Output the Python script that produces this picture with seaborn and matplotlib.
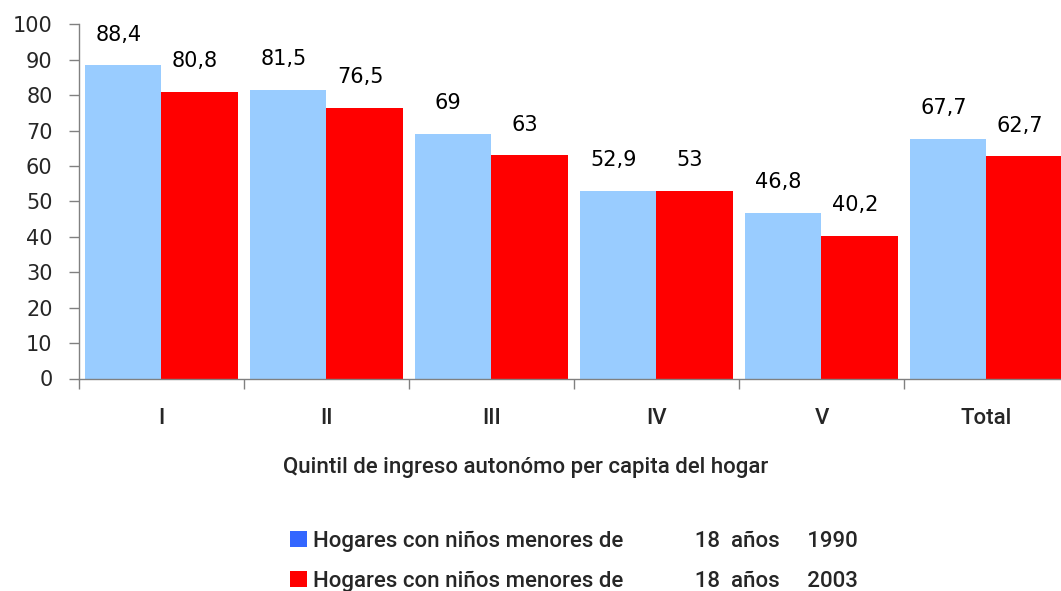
import matplotlib
matplotlib.use("Agg")
import matplotlib.pyplot as plt
import seaborn as sns
import pandas as pd
from matplotlib.patches import Patch
from matplotlib.ticker import FixedLocator

categories = ["I", "II", "III", "IV", "V", "Total"]
values_1990 = [88.4, 81.5, 69, 52.9, 46.8, 67.7]
values_2003 = [80.8, 76.5, 63, 53, 40.2, 62.7]
series_names = ["Hogares con niños menores de             18  años     1990",
                "Hogares con niños menores de             18  años     2003"]

df = pd.DataFrame({
    "cat": categories * 2,
    "val": values_1990 + values_2003,
    "serie": [series_names[0]] * 6 + [series_names[1]] * 6,
})

sns.set_style("white")
plt.rcParams['font.family'] = ['DejaVu Sans']
narrow = ['Roboto', 'DejaVu Sans']

fig = plt.figure(figsize=(10.61, 5.91), dpi=100)
ax = fig.add_axes([79 / 1061, 1 - 378.5 / 591, 990 / 1061, 354.2 / 591])

bar_colors = ["#99ccff", "#ff0000"]
sns.barplot(data=df, x="cat", y="val", hue="serie", palette=bar_colors,
            width=0.93, gap=0, saturation=1, ax=ax, legend=False, errorbar=None,
            linewidth=0, edgecolor="none")

for cont in ax.containers:
    labels = [f"{v:g}".replace(".", ",") for v in cont.datavalues]
    anns = ax.bar_label(cont, labels=labels, padding=15, fontsize=15, color="black")
    for a in anns:
        a.xyann = (-3.5, 15)

ax.set_ylim(0, 100)
ax.set_xlim(-0.5, 5.5)
ax.set_yticks(range(0, 101, 10))
ax.tick_params(axis="y", which="major", length=7, width=1, color="#808080",
               direction="out", labelsize=15, pad=12, left=True)

ax.set_xticks(range(len(categories)))
ax.set_xticklabels(categories, fontsize=16, family=narrow, fontweight="medium")
ax.xaxis.set_minor_locator(FixedLocator([i - 0.5 for i in range(len(categories) + 1)]))
ax.tick_params(axis="x", which="major", length=0, pad=21)
ax.tick_params(axis="x", which="minor", length=7, width=1, color="#808080",
               direction="out", bottom=True)

ax.set_xlabel("Quintil de ingreso autonómo per capita del hogar", fontsize=16,
              family=narrow, fontweight="medium")
ax.xaxis.set_label_coords((526 - 79) / 990, -(467 - 378.5) / 354.2)
ax.xaxis.label.set_verticalalignment("center")
ax.set_ylabel("")

for s in ["top", "right"]:
    ax.spines[s].set_visible(False)
for s in ["left", "bottom"]:
    ax.spines[s].set_color("#808080")
    ax.spines[s].set_linewidth(1)

handles = [Patch(facecolor="#3366ff", edgecolor="none"),
           Patch(facecolor="#ff0000", edgecolor="none")]
fig.legend(handles, series_names, loc="center left",
           bbox_to_anchor=(290 / 1061, 1 - 561 / 591), frameon=False,
           prop={"family": narrow, "size": 16, "weight": "medium"}, handlelength=0.77,
           handleheight=0.77, handletextpad=0.27, labelspacing=0.85, borderpad=0,
           borderaxespad=0)

fig.savefig("out.png", dpi=100)
